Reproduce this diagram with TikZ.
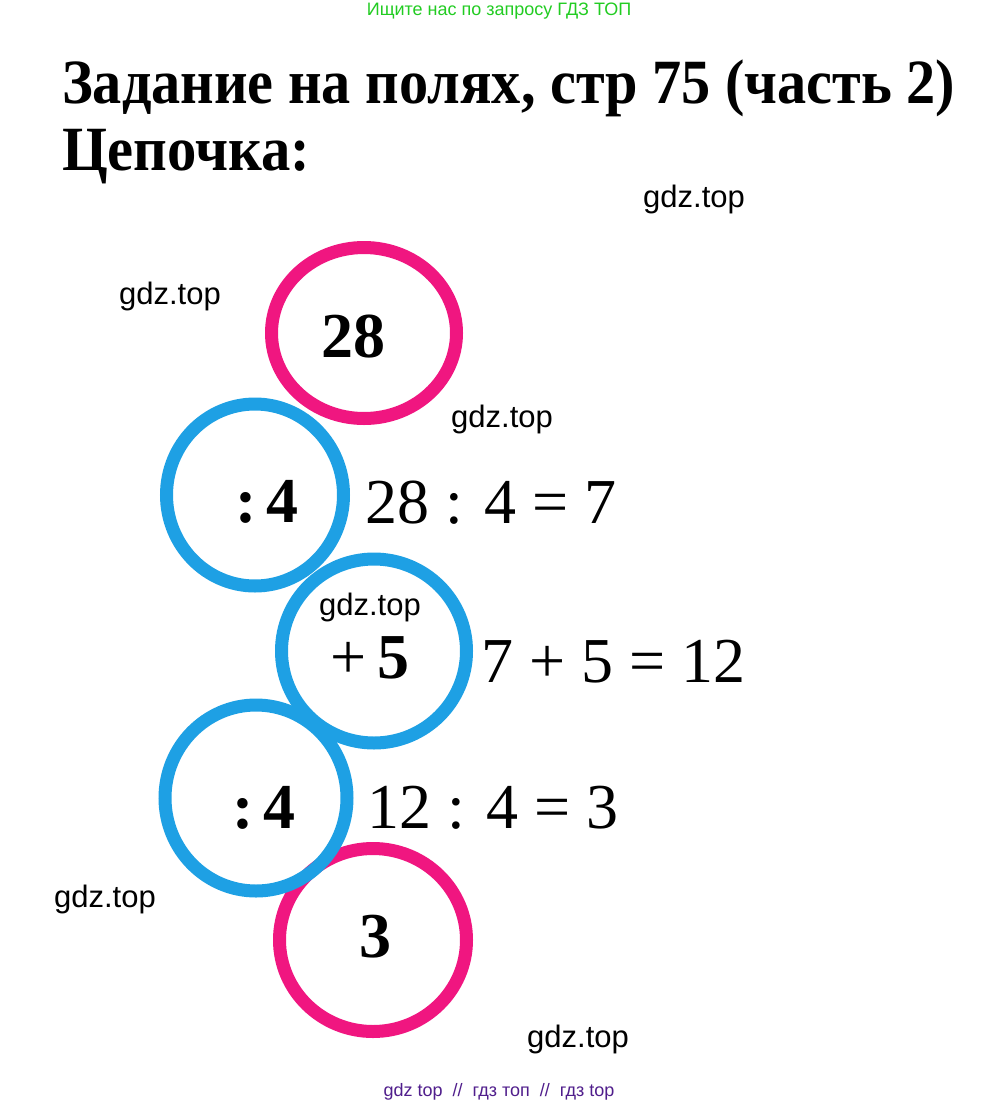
\documentclass[tikz,border=0pt]{standalone}
\usepackage{graphicx}
\usepackage{fontspec}
\setmainfont{Liberation Serif}
\newfontfamily\wmfont{Liberation Sans}
\usetikzlibrary{shapes.geometric}
\definecolor{ringpink}{RGB}{240,22,128}
\definecolor{ringblue}{RGB}{30,160,228}
\definecolor{topgreen}{RGB}{34,204,34}
\definecolor{botpurple}{RGB}{80,30,140}
\tikzset{
  ring/.style={ellipse,draw,line width=13pt,inner sep=0pt},
  pink ring/.style={ring,draw=ringpink},
  blue ring/.style={ring,draw=ringblue},
  titletext/.style={font=\fontsize{63}{63}\selectfont\bfseries,anchor=base west,inner sep=0pt},
  numtext/.style={font=\fontsize{64}{64}\selectfont\bfseries,anchor=base,inner sep=0pt},
  eqtext/.style={font=\fontsize{64}{64}\selectfont,anchor=base west,inner sep=0pt},
  wmark/.style={font=\wmfont\fontsize{31}{31}\selectfont,inner sep=0pt}
}
\begin{document}
\begin{tikzpicture}[x=1pt,y=-1pt]
        \fill[white] (0,0) rectangle (999,1106);
        \useasboundingbox (0,0) rectangle (999,1106);
        % header and title
        \node [font=\wmfont\fontsize{18}{18}\selectfont,text=topgreen,inner sep=0pt] (h) at (499,11) {Ищите нас по запросу ГДЗ ТОП};
        \node [titletext] (t1) at (62,103) {\resizebox{893pt}{\height}{Задание на полях, стр 75 (часть 2)}};
        \node [titletext] (t2) at (62,170) {\resizebox{248pt}{\height}{Цепочка:}};
        % chain
        \node [pink ring,minimum width=185pt,minimum height=171pt] (1) at (364,333) {};
        \node [pink ring,minimum width=187pt,minimum height=183pt] (5) at (373,940) {};
        \node [blue ring,minimum width=177pt,minimum height=182pt] (2) at (255,495) {};
        \node [blue ring,minimum width=185pt,minimum height=184pt] (3) at (374,651) {};
        \node [blue ring,minimum width=182pt,minimum height=186pt] (4) at (256,798) {};
        \node [numtext] (n1) at (353,357) {28};
        \node [numtext] (n2) at (267,522) {:\,4};
        \node [numtext] (n3) at (370,678) {\mdseries+\,\bfseries5};
        \node [numtext] (n4) at (264,828) {:\,4};
        \node [numtext] (n5) at (375,957) {3};
        \node [eqtext] (e2) at (365,523) {28 : 4 = 7};
        \node [eqtext] (e3) at (481,682) {7 + 5 = 12};
        \node [eqtext] (e4) at (367,828) {12 : 4 = 3};
        % watermarks
        \node [wmark] (w1) at (694,199) {gdz.top};
        \node [wmark] (w2) at (170,296) {gdz.top};
        \node [wmark] (w3) at (502,419) {gdz.top};
        \node [wmark] (w4) at (370,607) {gdz.top};
        \node [wmark] (w5) at (105,899) {gdz.top};
        \node [wmark] (w6) at (578,1039) {gdz.top};
        \node [font=\wmfont\fontsize{18}{18}\selectfont,text=botpurple,inner sep=0pt] (f) at (499,1092) {gdz top\ \ //\ \ гдз топ\ \ //\ \ гдз top};
      \end{tikzpicture}
\end{document}
